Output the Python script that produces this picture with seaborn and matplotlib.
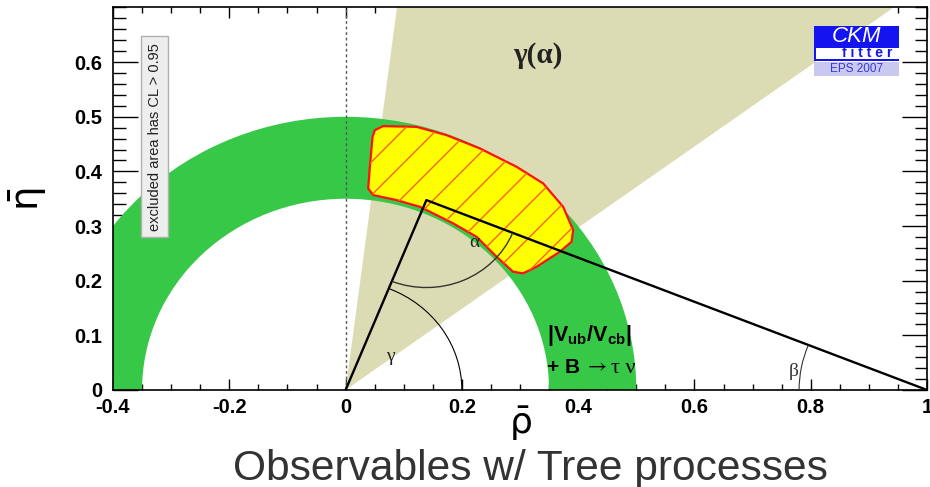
import numpy as np
import seaborn as sns
import matplotlib.pyplot as plt
from matplotlib.patches import Wedge, Polygon, Arc, Rectangle

# unitarity triangle apex (rho_bar, eta_bar)
apex = (0.139, 0.3475)
tri_rho = [0.0, apex[0], 1.0]
tri_eta = [0.0, apex[1], 0.0]

# |Vub/Vcb| + B->tau nu ring
ring_r_in = 0.35
ring_r_out = 0.50

# gamma(alpha) wedge, angles in degrees
wedge_ang = [36.6, 82.8]

# 95% CL combined region (contour)
cl_rho = [0.0504, 0.0647, 0.1221, 0.1737, 0.2310, 0.2941, 0.3398, 0.3742,
          0.3914, 0.3886, 0.3685, 0.3285, 0.3054, 0.2882, 0.2597, 0.2253,
          0.1850, 0.1565, 0.1278, 0.0877, 0.0475, 0.0389, 0.0418, 0.0464]
cl_eta = [0.4756, 0.4829, 0.4816, 0.4664, 0.4421, 0.4085, 0.3781, 0.3353,
          0.2927, 0.2713, 0.2530, 0.2255, 0.2135, 0.2164, 0.2438, 0.2804,
          0.3049, 0.3201, 0.3353, 0.3475, 0.3567, 0.3689, 0.4085, 0.4633]

x_ticks = [-0.4, -0.2, 0, 0.2, 0.4, 0.6, 0.8, 1]
x_labels = ['-0.4', '-0.2', '0', '0.2', '0.4', '0.6', '0.8', '1']
y_ticks = [0, 0.1, 0.2, 0.3, 0.4, 0.5, 0.6]
y_labels = ['0', '0.1', '0.2', '0.3', '0.4', '0.5', '0.6']

sns.set_style('ticks')
plt.rcParams['font.family'] = ['Liberation Sans', 'DejaVu Sans']
plt.rcParams['mathtext.fontset'] = 'custom'
plt.rcParams['mathtext.rm'] = 'Liberation Sans'
plt.rcParams['mathtext.bf'] = 'Liberation Sans:bold'
plt.rcParams['mathtext.it'] = 'Liberation Sans:italic'

fig = plt.figure(figsize=(9.3, 4.87), dpi=100)
ax = fig.add_axes([0.1215, 0.1992, 0.8753, 0.7854])

green = '#38c848'
beige = '#dcdcb4'

ax.add_patch(Wedge((0, 0), 2.0, wedge_ang[0], wedge_ang[1], facecolor=beige,
                   edgecolor='none', zorder=1))
ax.add_patch(Wedge((0, 0), ring_r_out, 0, 180, width=ring_r_out - ring_r_in,
                   facecolor=green, edgecolor='none', zorder=2))

cl_pts = np.column_stack([cl_rho, cl_eta])
ax.add_patch(Polygon(cl_pts, closed=True, facecolor='#ffff00',
                     edgecolor='#ff1010', lw=1.6, joinstyle='round', zorder=3))
ax.add_patch(Polygon(cl_pts, closed=True, fill=False, edgecolor='#ff6020',
                     lw=0, hatch='/', zorder=3))

ax.axvline(0, color='#555555', ls=(0, (2, 2)), lw=1.0, zorder=4)

# triangle
sns.lineplot(x=tri_rho, y=tri_eta, sort=False, estimator=None, color='black',
             lw=1.7, ax=ax, zorder=5)

# angle arcs
ang_apex = np.degrees(np.arctan2(apex[1], apex[0]))
ax.add_patch(Arc((0, 0), 0.4, 0.4, theta1=0, theta2=ang_apex, color='black',
                 lw=0.8, zorder=5))
a1 = np.degrees(np.arctan2(-apex[1], -apex[0])) + 360
a2 = np.degrees(np.arctan2(-apex[1], 1 - apex[0])) + 360
ax.add_patch(Arc(apex, 0.32, 0.32, theta1=a1, theta2=a2, color='#333333',
                 lw=1.0, zorder=5))
b1 = np.degrees(np.arctan2(apex[1], apex[0] - 1))
ax.add_patch(Arc((1, 0), 0.44, 0.44, theta1=b1, theta2=180, color='#333333',
                 lw=0.8, zorder=5))

serif = ['Liberation Serif', 'DejaVu Serif']
ax.text(0.077, 0.062, 'γ', family=serif, fontsize=14, ha='center',
        va='center', color='#222222', zorder=6)
ax.text(0.221, 0.27, 'α', family=serif, fontsize=14, ha='center',
        va='center', color='#222222', zorder=6)
ax.text(0.771, 0.033, 'β', family=serif, fontsize=14, ha='center',
        va='center', color='#333333', zorder=6)
ax.text(0.33, 0.613, 'γ(α)', family=serif, fontsize=21, fontweight='bold',
        ha='center', va='center', color='#222222', zorder=6)

ax.text(0.419, 0.10, r'$\mathbf{|V_{ub}/V_{cb}|}$', fontsize=15.5,
        math_fontfamily='custom', ha='center', va='center', color='black',
        zorder=6)
ax.text(0.346, 0.042, '+ B', fontsize=15, fontweight='bold', ha='left',
        va='center', color='black', zorder=6)
ax.text(0.41, 0.044, r'$\rightarrow$', fontsize=15, math_fontfamily='stix',
        ha='left', va='center', color='black', zorder=6)
ax.text(0.457, 0.040, 'τ ν', family=serif, fontsize=16, ha='left',
        va='center', color='black', zorder=6)

ax.text(-0.328, 0.4637, 'excluded area has CL > 0.95', rotation=90,
        fontsize=10.5, ha='center', va='center', color='#222222', zorder=6,
        bbox=dict(boxstyle='square,pad=0.45', facecolor='#eeeeee',
                  edgecolor='#b0b0b0', lw=1))

# CKMfitter logo
blue = '#1414f0'
tr = ax.transAxes
ax.add_patch(Rectangle((0.8616, 0.860), 0.104, 0.0916, transform=tr,
                       facecolor=blue, edgecolor='none', zorder=7))
ax.add_patch(Rectangle((0.8636, 0.8660), 0.102, 0.0294, transform=tr,
                       facecolor='white', edgecolor='none', zorder=7))
ax.add_patch(Rectangle((0.8616, 0.821), 0.104, 0.0375, transform=tr,
                       facecolor='#c8c8f0', edgecolor='none', zorder=7))
ax.text(0.913, 0.925, 'CKM', transform=tr, fontsize=16, style='italic',
        color='white', ha='center', va='center', zorder=8)
ax.text(0.926, 0.880, 'f i t t e r', transform=tr, fontsize=10,
        fontweight='bold', color=blue, ha='center', va='center', zorder=8)
ax.text(0.913, 0.839, 'EPS 2007', transform=tr, fontsize=8.5,
        color='#3a3ad8', ha='center', va='center', zorder=8)

ax.set_xlim(-0.4, 1.0)
ax.set_ylim(0, 0.7)
ax.set_xticks(x_ticks)
ax.set_xticklabels(x_labels, fontsize=14.5, fontweight='bold')
ax.set_yticks(y_ticks)
ax.set_yticklabels(y_labels, fontsize=14.5, fontweight='bold')
ax.set_xticks(np.arange(-0.4, 1.0001, 0.05), minor=True)
ax.set_yticks(np.arange(0, 0.7001, 0.02), minor=True)
ax.tick_params(which='both', direction='in', top=True, right=True,
               color='black', labelcolor='black', width=1)
ax.tick_params(axis='x', which='major', length=8, pad=6)
ax.tick_params(axis='x', which='minor', length=4)
ax.tick_params(axis='y', which='major', length=18, pad=8)
ax.tick_params(axis='y', which='minor', length=9)
for s in ax.spines.values():
    s.set_linewidth(1.2)
    s.set_color('black')

ax.set_xlabel(r'$\bar{\mathrm{\rho}}$', fontsize=26, color='black',
              math_fontfamily='dejavusans', labelpad=-9)
ax.set_ylabel(r'$\bar{\mathrm{\eta}}$', fontsize=28, color='black',
              math_fontfamily='dejavusans', labelpad=18)

fig.text(0.57, 0.015, 'Observables w/ Tree processes', fontsize=30.6,
         color='#333333', ha='center', va='baseline')

fig.savefig('out.png', dpi=100)
